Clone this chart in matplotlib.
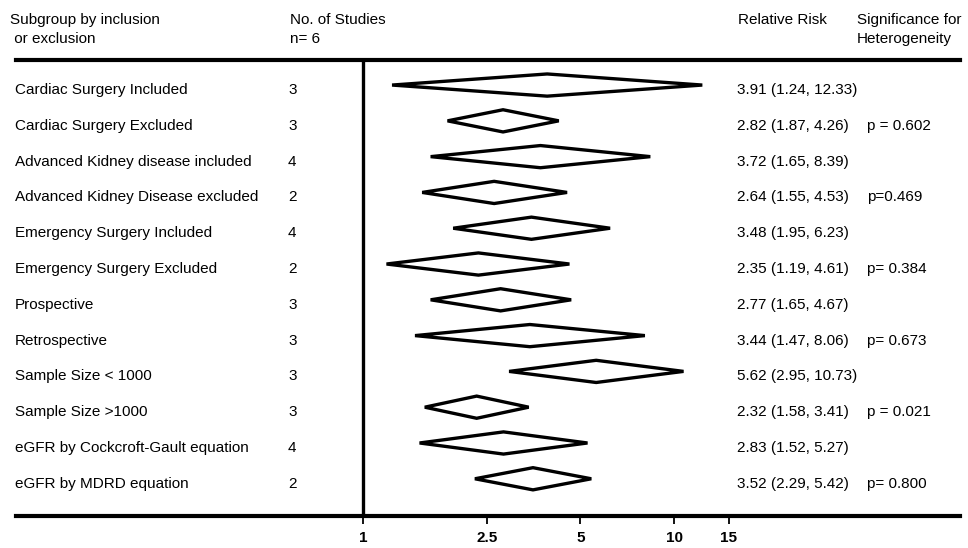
import numpy as np
import matplotlib.pyplot as plt
from matplotlib.transforms import blended_transform_factory

plt.rcParams['font.family'] = ['Liberation Sans', 'DejaVu Sans']

# Data
subgroups = ["Cardiac Surgery Included", "Cardiac Surgery Excluded",
             "Advanced Kidney disease included", "Advanced Kidney Disease excluded",
             "Emergency Surgery Included", "Emergency Surgery Excluded",
             "Prospective", "Retrospective",
             "Sample Size < 1000", "Sample Size >1000",
             "eGFR by Cockcroft-Gault equation", "eGFR by MDRD equation"]
n_studies = [3, 3, 4, 2, 4, 2, 3, 3, 3, 3, 4, 2]
rr = [3.91, 2.82, 3.72, 2.64, 3.48, 2.35, 2.77, 3.44, 5.62, 2.32, 2.83, 3.52]
lo = [1.24, 1.87, 1.65, 1.55, 1.95, 1.19, 1.65, 1.47, 2.95, 1.58, 1.52, 2.29]
hi = [12.33, 4.26, 8.39, 4.53, 6.23, 4.61, 4.67, 8.06, 10.73, 3.41, 5.27, 5.42]
p_het = ["", "p = 0.602", "", "p=0.469", "", "p= 0.384",
         "", "p= 0.673", "", "p = 0.021", "", "p= 0.800"]
xticks = [1, 2.5, 5, 10, 15]

fig = plt.figure(figsize=(9.68, 5.48), dpi=100)
ax = fig.add_axes([16 / 968, 1 - 516 / 548, 944 / 968, 456 / 548])
ax.set_xscale('log')
ax.set_xlim(0.0766, 83.1)
ax.set_ylim(11.9, -0.84)

# diamonds
h = 0.31
for i in range(len(rr)):
    yc = i - 0.14
    xs = [lo[i], rr[i], hi[i], rr[i], lo[i]]
    ys = [yc, yc - h, yc, yc + h, yc]
    ax.fill(xs, ys, facecolor='white', edgecolor='black', lw=2.4, joinstyle='miter')

ax.axvline(1, color='black', lw=2.4)

for s in ['left', 'right']:
    ax.spines[s].set_visible(False)
ax.spines['top'].set_linewidth(3)
ax.spines['bottom'].set_linewidth(3)
ax.set_yticks([])
ax.minorticks_off()
ax.set_xticks(xticks)
ax.set_xticklabels(['1', '2.5', '5', '10', '15'], fontweight='bold', fontsize=11)
ax.tick_params(axis='x', length=6, width=1.3, pad=5)

# text columns
tr = blended_transform_factory(fig.transFigure, ax.transData)
fs = 11
for i in range(len(rr)):
    fig.text(15 / 968, i, subgroups[i], transform=tr, va='center', fontsize=fs)
    fig.text(288 / 968, i, str(n_studies[i]), transform=tr, va='center', fontsize=fs)
    fig.text(737 / 968, i, f"{rr[i]:.2f} ({lo[i]:.2f}, {hi[i]:.2f})",
             transform=tr, va='center', fontsize=fs)
    if p_het[i]:
        fig.text(867 / 968, i, p_het[i], transform=tr, va='center', fontsize=fs)

# headers
fig.text(10 / 968, 1 - 20 / 548, "Subgroup by inclusion", va='center', fontsize=fs)
fig.text(10 / 968, 1 - 39 / 548, " or exclusion", va='center', fontsize=fs)
fig.text(290 / 968, 1 - 20 / 548, "No. of Studies", va='center', fontsize=fs)
fig.text(290 / 968, 1 - 39 / 548, "n= 6", va='center', fontsize=fs)
fig.text(738 / 968, 1 - 20 / 548, "Relative Risk", va='center', fontsize=fs)
fig.text(857 / 968, 1 - 20 / 548, "Significance for", va='center', fontsize=fs)
fig.text(857 / 968, 1 - 39 / 548, "Heterogeneity", va='center', fontsize=fs)

fig.savefig("out.png", dpi=100)
